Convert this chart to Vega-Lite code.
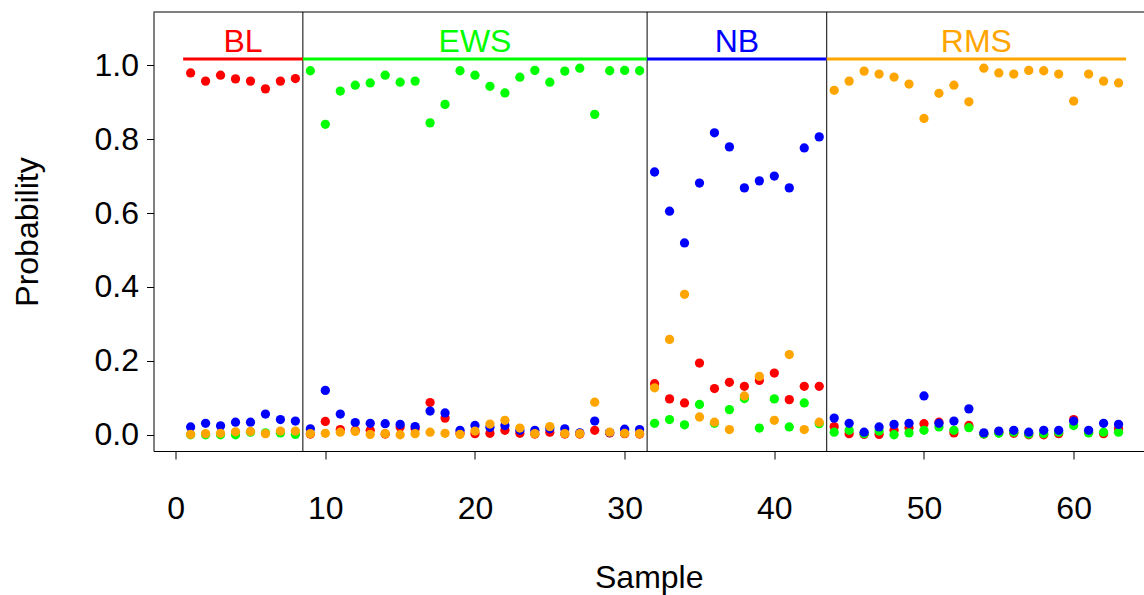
{
  "$schema": "https://vega.github.io/schema/vega-lite/v6.json",
  "width": 990.5,
  "height": 439,
  "autosize": {"type": "none"},
  "padding": {"left": 153.5, "top": 12, "right": 0, "bottom": 144},
  "background": "white",
  "config": {"view": {"stroke": null}, "font": "Liberation Sans"},
  "datasets": {
    "groups": [
      {"group": "BL", "start": 0.5, "end": 8.5, "mid": 4.5},
      {"group": "EWS", "start": 8.5, "end": 31.5, "mid": 20},
      {"group": "NB", "start": 31.5, "end": 43.5, "mid": 37.5},
      {"group": "RMS", "start": 43.5, "end": 63.5, "mid": 53.5}
    ],
    "probs": [
      {"sample": 1, "BL": 0.979, "EWS": 0.000, "NB": 0.021, "RMS": 0.001},
      {"sample": 2, "BL": 0.957, "EWS": 0.000, "NB": 0.031, "RMS": 0.003},
      {"sample": 3, "BL": 0.973, "EWS": 0.000, "NB": 0.024, "RMS": 0.004},
      {"sample": 4, "BL": 0.963, "EWS": 0.000, "NB": 0.034, "RMS": 0.008},
      {"sample": 5, "BL": 0.957, "EWS": 0.007, "NB": 0.034, "RMS": 0.009},
      {"sample": 6, "BL": 0.936, "EWS": 0.005, "NB": 0.056, "RMS": 0.003},
      {"sample": 7, "BL": 0.957, "EWS": 0.005, "NB": 0.041, "RMS": 0.010},
      {"sample": 8, "BL": 0.964, "EWS": 0.001, "NB": 0.037, "RMS": 0.010},
      {"sample": 9, "BL": 0.002, "EWS": 0.985, "NB": 0.016, "RMS": 0.003},
      {"sample": 10, "BL": 0.036, "EWS": 0.840, "NB": 0.120, "RMS": 0.004},
      {"sample": 11, "BL": 0.014, "EWS": 0.930, "NB": 0.056, "RMS": 0.007},
      {"sample": 12, "BL": 0.012, "EWS": 0.946, "NB": 0.033, "RMS": 0.009},
      {"sample": 13, "BL": 0.012, "EWS": 0.952, "NB": 0.031, "RMS": 0.001},
      {"sample": 14, "BL": 0.002, "EWS": 0.973, "NB": 0.030, "RMS": 0.003},
      {"sample": 15, "BL": 0.021, "EWS": 0.954, "NB": 0.028, "RMS": 0.000},
      {"sample": 16, "BL": 0.016, "EWS": 0.957, "NB": 0.022, "RMS": 0.003},
      {"sample": 17, "BL": 0.087, "EWS": 0.844, "NB": 0.064, "RMS": 0.007},
      {"sample": 18, "BL": 0.045, "EWS": 0.894, "NB": 0.059, "RMS": 0.004},
      {"sample": 19, "BL": 0.004, "EWS": 0.985, "NB": 0.012, "RMS": 0.001},
      {"sample": 20, "BL": 0.003, "EWS": 0.973, "NB": 0.025, "RMS": 0.010},
      {"sample": 21, "BL": 0.004, "EWS": 0.943, "NB": 0.020, "RMS": 0.029},
      {"sample": 22, "BL": 0.012, "EWS": 0.925, "NB": 0.025, "RMS": 0.039},
      {"sample": 23, "BL": 0.004, "EWS": 0.9675, "NB": 0.012, "RMS": 0.018},
      {"sample": 24, "BL": 0.002, "EWS": 0.986, "NB": 0.012, "RMS": 0.003},
      {"sample": 25, "BL": 0.007, "EWS": 0.954, "NB": 0.016, "RMS": 0.022},
      {"sample": 26, "BL": 0.002, "EWS": 0.984, "NB": 0.016, "RMS": 0.003},
      {"sample": 27, "BL": 0.002, "EWS": 0.992, "NB": 0.005, "RMS": 0.003},
      {"sample": 28, "BL": 0.012, "EWS": 0.867, "NB": 0.037, "RMS": 0.088},
      {"sample": 29, "BL": 0.005, "EWS": 0.985, "NB": 0.006, "RMS": 0.007},
      {"sample": 30, "BL": 0.003, "EWS": 0.986, "NB": 0.015, "RMS": 0.004},
      {"sample": 31, "BL": 0.002, "EWS": 0.985, "NB": 0.014, "RMS": 0.003},
      {"sample": 32, "BL": 0.138, "EWS": 0.031, "NB": 0.711, "RMS": 0.127},
      {"sample": 33, "BL": 0.097, "EWS": 0.041, "NB": 0.605, "RMS": 0.258},
      {"sample": 34, "BL": 0.086, "EWS": 0.027, "NB": 0.519, "RMS": 0.380},
      {"sample": 35, "BL": 0.194, "EWS": 0.082, "NB": 0.681, "RMS": 0.048},
      {"sample": 36, "BL": 0.125, "EWS": 0.031, "NB": 0.817, "RMS": 0.034},
      {"sample": 37, "BL": 0.142, "EWS": 0.068, "NB": 0.779, "RMS": 0.014},
      {"sample": 38, "BL": 0.131, "EWS": 0.098, "NB": 0.668, "RMS": 0.105},
      {"sample": 39, "BL": 0.147, "EWS": 0.018, "NB": 0.687, "RMS": 0.158},
      {"sample": 40, "BL": 0.167, "EWS": 0.097, "NB": 0.700, "RMS": 0.039},
      {"sample": 41, "BL": 0.095, "EWS": 0.021, "NB": 0.668, "RMS": 0.217},
      {"sample": 42, "BL": 0.131, "EWS": 0.086, "NB": 0.776, "RMS": 0.014},
      {"sample": 43, "BL": 0.131, "EWS": 0.030, "NB": 0.806, "RMS": 0.034},
      {"sample": 44, "BL": 0.022, "EWS": 0.007, "NB": 0.045, "RMS": 0.932},
      {"sample": 45, "BL": 0.003, "EWS": 0.012, "NB": 0.031, "RMS": 0.957},
      {"sample": 46, "BL": 0.001, "EWS": 0.003, "NB": 0.007, "RMS": 0.984},
      {"sample": 47, "BL": 0.001, "EWS": 0.010, "NB": 0.021, "RMS": 0.976},
      {"sample": 48, "BL": 0.012, "EWS": 0.000, "NB": 0.028, "RMS": 0.968},
      {"sample": 49, "BL": 0.019, "EWS": 0.005, "NB": 0.031, "RMS": 0.949},
      {"sample": 50, "BL": 0.030, "EWS": 0.012, "NB": 0.105, "RMS": 0.856},
      {"sample": 51, "BL": 0.034, "EWS": 0.021, "NB": 0.031, "RMS": 0.924},
      {"sample": 52, "BL": 0.005, "EWS": 0.012, "NB": 0.037, "RMS": 0.946},
      {"sample": 53, "BL": 0.025, "EWS": 0.019, "NB": 0.070, "RMS": 0.901},
      {"sample": 54, "BL": 0.002, "EWS": 0.002, "NB": 0.005, "RMS": 0.992},
      {"sample": 55, "BL": 0.006, "EWS": 0.004, "NB": 0.010, "RMS": 0.979},
      {"sample": 56, "BL": 0.004, "EWS": 0.007, "NB": 0.012, "RMS": 0.976},
      {"sample": 57, "BL": 0.000, "EWS": 0.002, "NB": 0.007, "RMS": 0.986},
      {"sample": 58, "BL": 0.000, "EWS": 0.003, "NB": 0.012, "RMS": 0.985},
      {"sample": 59, "BL": 0.003, "EWS": 0.007, "NB": 0.012, "RMS": 0.976},
      {"sample": 60, "BL": 0.041, "EWS": 0.025, "NB": 0.037, "RMS": 0.903},
      {"sample": 61, "BL": 0.006, "EWS": 0.005, "NB": 0.012, "RMS": 0.976},
      {"sample": 62, "BL": 0.003, "EWS": 0.007, "NB": 0.031, "RMS": 0.957},
      {"sample": 63, "BL": 0.016, "EWS": 0.007, "NB": 0.028, "RMS": 0.952}
    ]
  },
  "layer": [
    {
      "data": {"name": "probs"},
      "transform": [{"fold": ["BL", "EWS", "NB", "RMS"], "as": ["cls", "prob"]}],
      "mark": {"type": "point", "shape": "circle", "filled": true, "size": 86, "opacity": 1, "strokeWidth": 0},
      "encoding": {
        "x": {
          "field": "sample", "type": "quantitative",
          "scale": {"domain": [-1.48, 64.7], "nice": false, "zero": false},
          "axis": {
            "values": [0, 10, 20, 30, 40, 50, 60], "format": "d", "grid": false,
            "tickSize": 8, "tickColor": "black", "domainColor": "black", "domainWidth": 1,
            "labelFontSize": 32, "labelColor": "black", "labelPadding": 34, "labelFlush": false,
            "labelOverlap": false, "labelFont": "Liberation Sans",
            "title": "Sample", "titleFontSize": 32, "titleFontWeight": "normal", "titleColor": "black",
            "titlePadding": 38, "titleFont": "Liberation Sans"
          }
        },
        "y": {
          "field": "prob", "type": "quantitative",
          "scale": {"domain": [-0.044, 1.144], "nice": false, "zero": false},
          "axis": {
            "values": [0, 0.2, 0.4, 0.6, 0.8, 1.0], "format": ".1f", "grid": false,
            "tickSize": 7, "tickColor": "black", "domainColor": "black", "domainWidth": 1,
            "labelFontSize": 32, "labelColor": "black", "labelPadding": 8,
            "labelOverlap": false, "labelFont": "Liberation Sans",
            "title": "Probability", "titleFontSize": 32, "titleFontWeight": "normal", "titleColor": "black",
            "titlePadding": 50, "titleFont": "Liberation Sans"
          }
        },
        "color": {
          "field": "cls", "type": "nominal",
          "scale": {"domain": ["BL", "EWS", "NB", "RMS"], "range": ["#FF0000", "#00FF00", "#0000FF", "#FFA500"]},
          "legend": null
        }
      }
    },
    {
      "data": {"name": "groups"},
      "transform": [{"filter": "datum.end < 63"}],
      "mark": {"type": "rule", "color": "black", "strokeWidth": 1},
      "encoding": {
        "x": {"field": "end", "type": "quantitative"}
      }
    },
    {
      "data": {"values": [{"edge": "top"}]},
      "mark": {"type": "rule", "color": "black", "strokeWidth": 1},
      "encoding": {
        "y": {"datum": 1.144, "type": "quantitative"}
      }
    },
    {
      "data": {"name": "groups"},
      "mark": {"type": "rule", "strokeWidth": 3},
      "encoding": {
        "x": {"field": "start", "type": "quantitative"},
        "x2": {"field": "end"},
        "y": {"datum": 1.017, "type": "quantitative"},
        "color": {"field": "group", "type": "nominal", "legend": null}
      }
    },
    {
      "data": {"name": "groups"},
      "mark": {"type": "text", "fontSize": 32, "baseline": "alphabetic", "align": "center", "font": "Liberation Sans"},
      "encoding": {
        "x": {"field": "mid", "type": "quantitative"},
        "y": {"datum": 1.036, "type": "quantitative"},
        "text": {"field": "group"},
        "color": {"field": "group", "type": "nominal", "legend": null}
      }
    }
  ]
}
